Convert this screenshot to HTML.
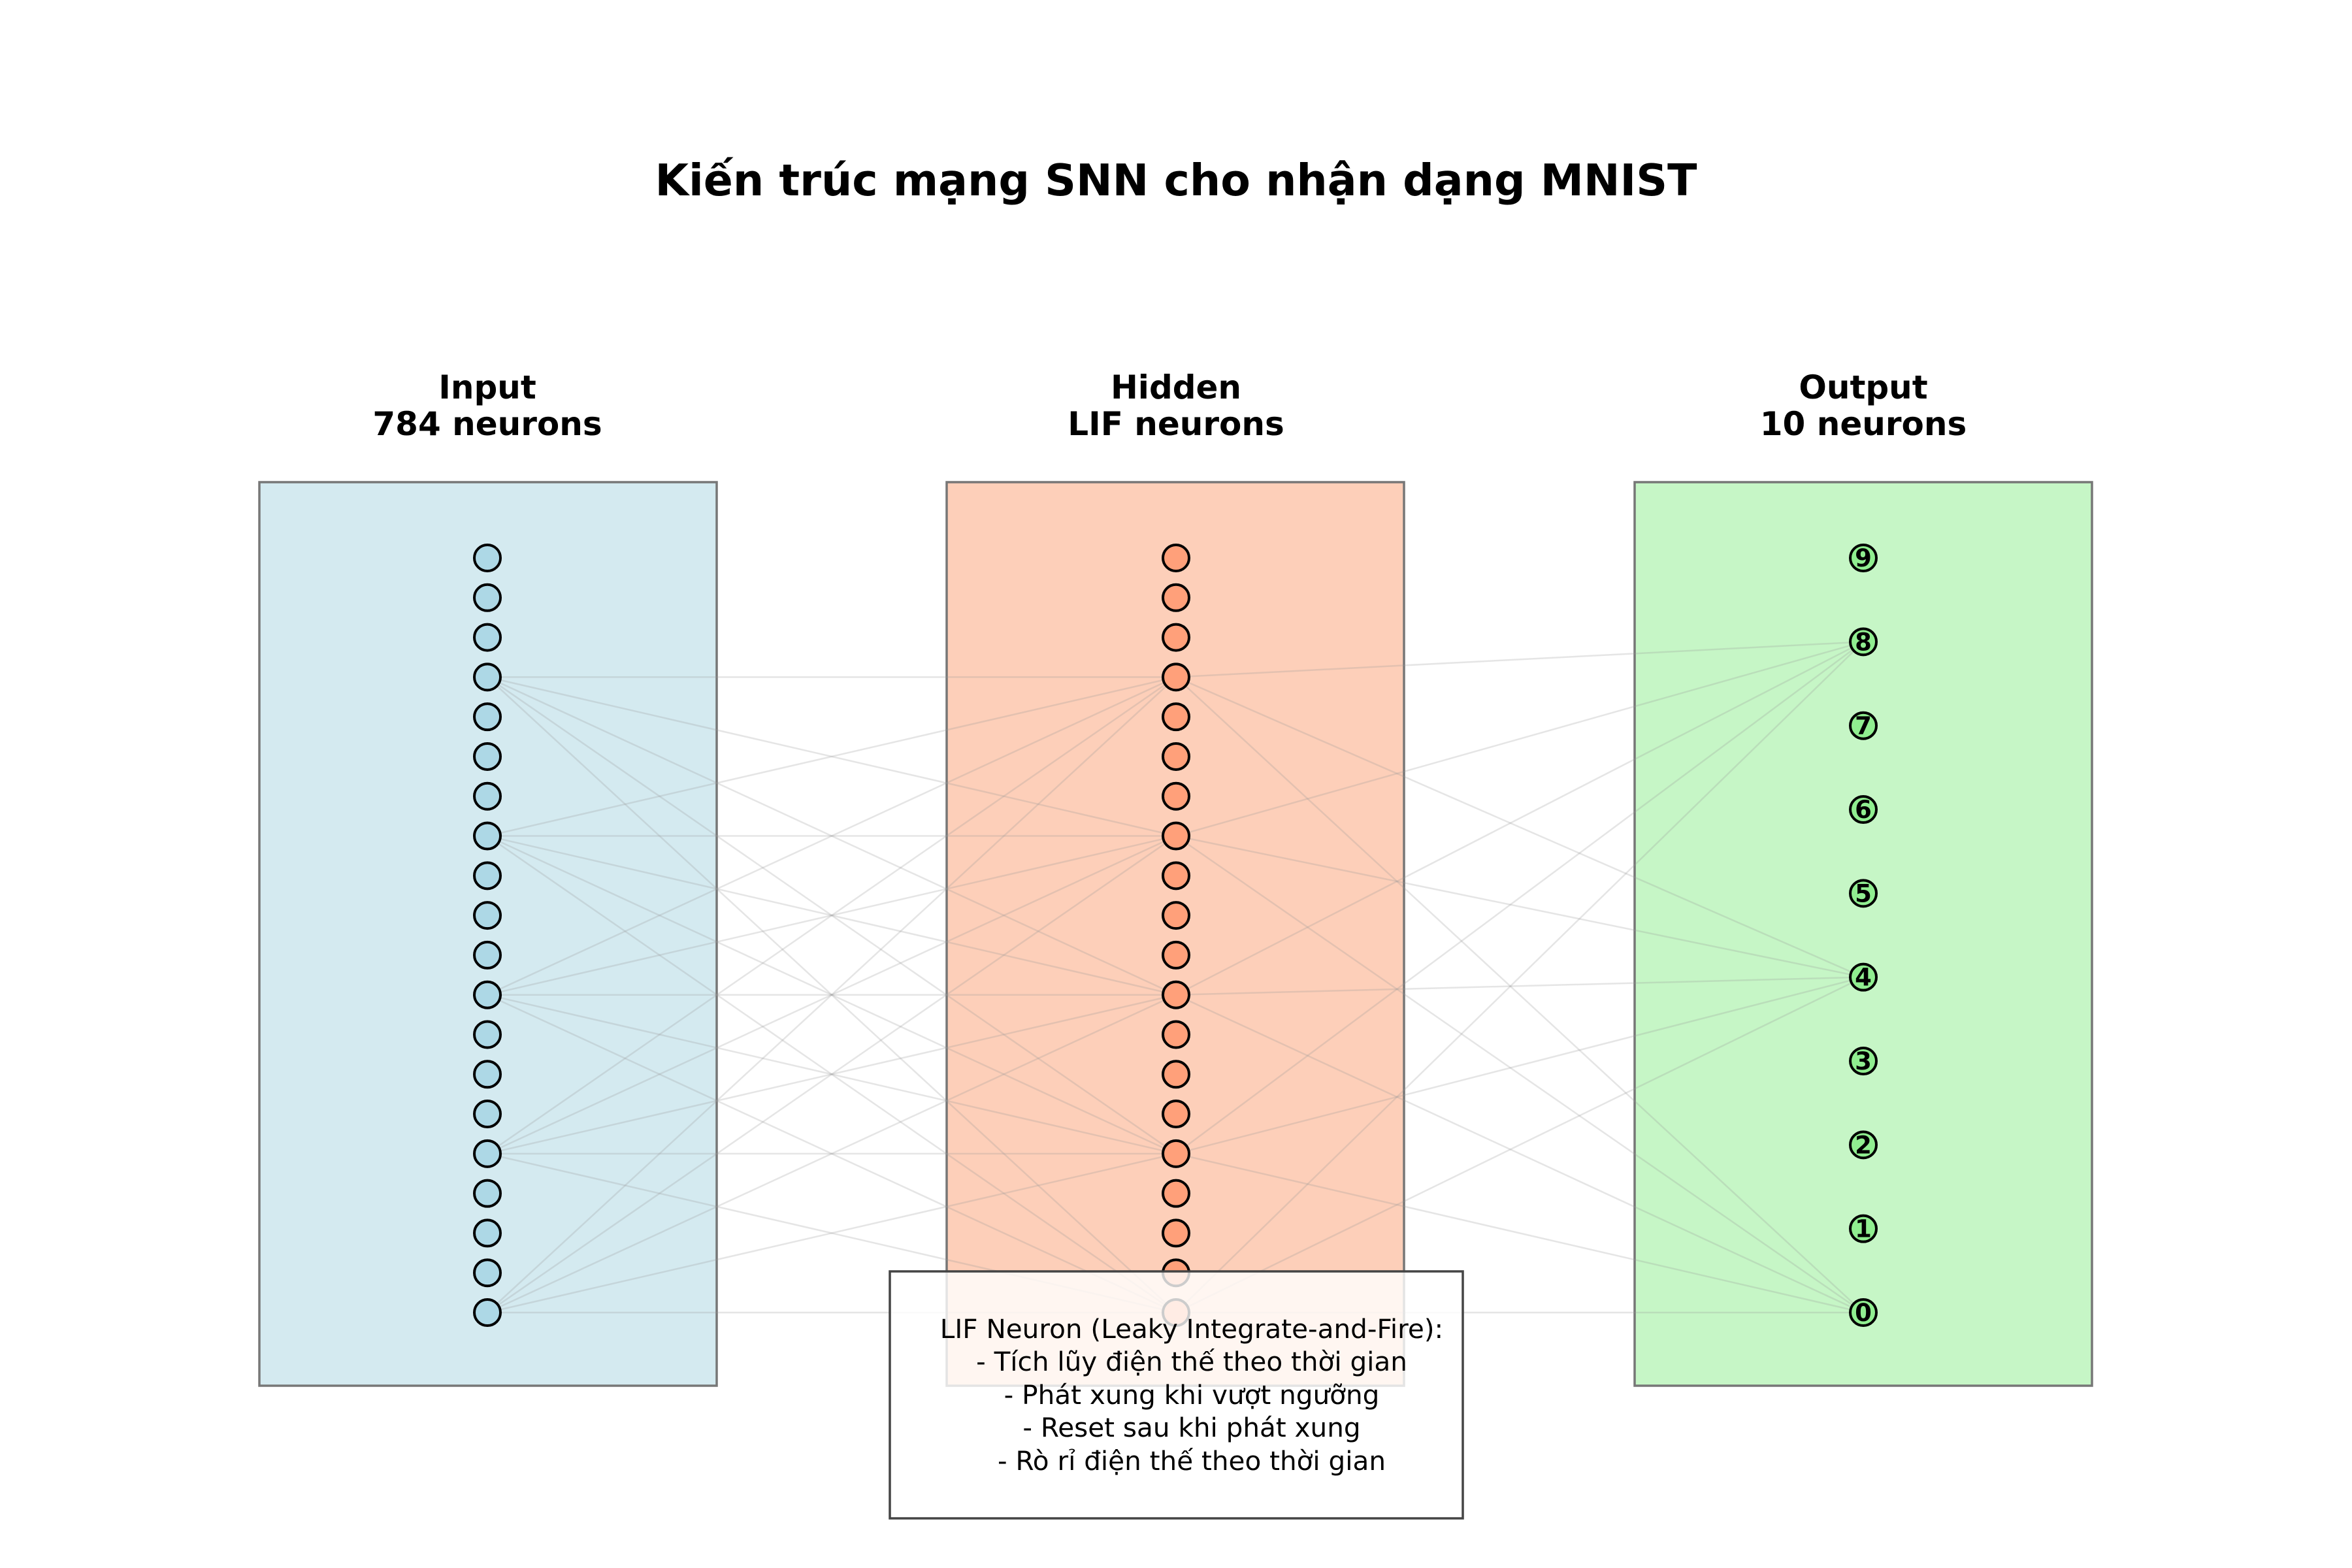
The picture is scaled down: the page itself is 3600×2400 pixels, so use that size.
<!DOCTYPE html>
<html><head><meta charset="utf-8"><style>
html,body{margin:0;padding:0;background:#fff;}
svg{display:block;}
text{font-family:"DejaVu Sans","Liberation Sans",sans-serif;}
</style></head><body>
<svg width="3600" height="2400" viewBox="0 0 3600 2400" xmlns="http://www.w3.org/2000/svg">
<rect width="3600" height="2400" fill="#fff"/>
<text x="1800" y="299" font-size="66.5" font-weight="bold" text-anchor="middle">Kiến trúc mạng SNN cho nhận dạng MNIST</text>
<g font-size="50" font-weight="bold" text-anchor="middle">
<text x="746" y="610">Input</text><text x="746" y="666">784 neurons</text>
<text x="1800" y="610">Hidden</text><text x="1800" y="666">LIF neurons</text>
<text x="2852" y="610">Output</text><text x="2852" y="666">10 neurons</text>
</g>
<rect x="397" y="738" width="700" height="1383" fill="#d4eaf0" stroke="#777" stroke-width="3.5"/>
<rect x="1449" y="738" width="700" height="1383" fill="#fdcfb9" stroke="#777" stroke-width="3.5"/>
<rect x="2502" y="738" width="700" height="1383" fill="#c6f6c6" stroke="#777" stroke-width="3.5"/>
<g id="lines" stroke="#999" stroke-opacity="0.25" stroke-width="2.5"></g>
<g id="neurons" stroke="#000" stroke-width="4"></g>
<g id="outs"></g>
<rect x="1362" y="1946" width="877" height="378" fill="#fff" fill-opacity="0.8" stroke="#444" stroke-width="3.5"/>
<g font-size="40.5" text-anchor="middle">
<text x="1824" y="2048">LIF Neuron (Leaky Integrate-and-Fire):</text>
<text x="1824" y="2098">- Tích lũy điện thế theo thời gian</text>
<text x="1824" y="2149">- Phát xung khi vượt ngưỡng</text>
<text x="1824" y="2199">- Reset sau khi phát xung</text>
<text x="1824" y="2250">- Rò rỉ điện thế theo thời gian</text>
</g>
<script>
var ns="http://www.w3.org/2000/svg";
function el(t,a,p){var e=document.createElementNS(ns,t);for(var k in a)e.setAttribute(k,a[k]);p.appendChild(e);return e;}
var L=document.getElementById('lines'),N=document.getElementById('neurons'),O=document.getElementById('outs');
function hy(i){return 854+i*60.79;}
function oy(d){return 2009-d*128.33;}
var sel=[3,7,11,15,19];
sel.forEach(function(a){sel.forEach(function(b){el('line',{x1:746,y1:hy(a),x2:1800,y2:hy(b)},L);});});
sel.forEach(function(a){[8,4,0].forEach(function(d){el('line',{x1:1800,y1:hy(a),x2:2852,y2:oy(d)},L);});});
for(var i=0;i<20;i++){el('circle',{cx:746,cy:hy(i),r:20,fill:'#add8e6'},N);el('circle',{cx:1800,cy:hy(i),r:20,fill:'#ffa07a'},N);}
for(var d=0;d<10;d++){el('circle',{cx:2852,cy:oy(d),r:20,fill:'#90ee90'},N);
var t=el('text',{x:2852,y:oy(d)+13,'font-size':37,'font-weight':'bold','text-anchor':'middle'},O);t.textContent=d;}
</script>
</svg>
</body></html>
